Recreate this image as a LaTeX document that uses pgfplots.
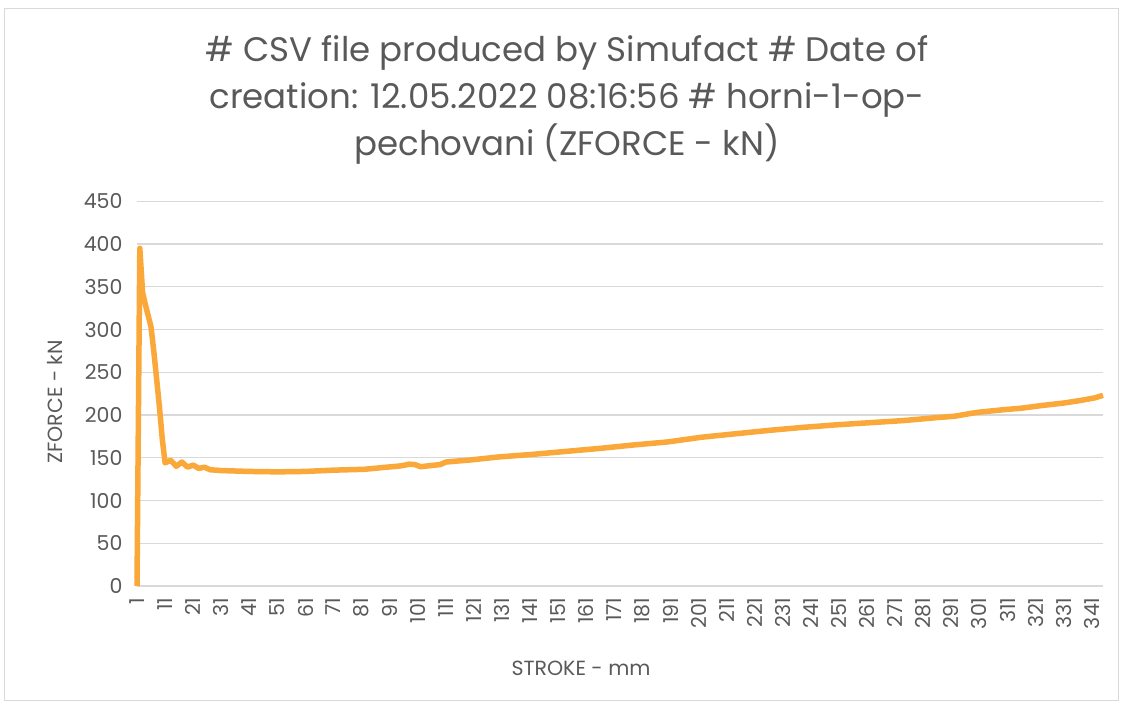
\documentclass[border=0pt]{standalone}
\usepackage{fontspec}
\setmainfont{Poppins}
\usepackage{pgfplots}
\pgfplotsset{compat=1.18}
\definecolor{lineor}{RGB}{250,168,57}
\definecolor{txtgray}{RGB}{89,89,89}
\definecolor{gridgray}{RGB}{217,217,217}

\begin{document}
\begin{tikzpicture}
\useasboundingbox (-137pt,-116pt) rectangle (986pt,586pt);
\draw[gridgray, line width=1pt] (-132pt,-114pt) rectangle (981pt,577pt);
\begin{axis}[
  scale only axis, width=966pt, height=384.75pt,
  at={(0pt,0pt)}, anchor=south west,
  xmin=1, xmax=345, ymin=0, ymax=450,
  xtick={1,11,...,341}, ytick={0,50,...,450},
  ymajorgrids, grid style={gridgray, line width=1.3pt},
  axis x line*=bottom, axis y line*=left,
  x axis line style={gridgray, line width=1.3pt, -},
  y axis line style={draw=none},
  major tick length=0pt,
  tick label style={font=\fontsize{20.5}{24}\selectfont, text=txtgray},
  xticklabel style={rotate=90, anchor=east},
  xticklabel shift=8pt, yticklabel shift=11pt,
  clip=false,
  /pgf/number format/assume math mode=true,
]
\addplot[lineor, line width=5.5pt, line join=round] coordinates {
(1,0) (2,395) (3,343) (4,329) (5,316) (6,303) (7,274) (8,242) (9,209) (10,172)
(11,144) (13,147) (15,140) (17,145) (19,139) (21,141.5) (23,137.5) (25,139) (27,136)
(31,135) (41,134) (51,133.5) (61,134) (71,135.5) (82,136.5) (90,139) (95,140.5)
(98,142.5) (100,142) (102,139.5) (106,141) (109,142) (111,145) (120,147.5)
(130,151) (142,154) (154,157.5) (166,161) (178,165) (190,168.5) (202,174) (214,178)
(226,182) (238,185.5) (250,188.5) (262,191) (274,193.5) (286,197) (292,198.5)
(300,203) (309,206) (316,208) (323,211) (331,214) (337,217) (342,220) (345,223)
};
\end{axis}
\node[align=center, font=\fontsize{34}{47}\selectfont, text=txtgray] at (430pt,486pt)
  {\# CSV file produced by Simufact \# Date of\\creation: 12.05.2022 08:16:56 \# horni-1-op-\\pechovani (ZFORCE - kN)};
\node[rotate=90, font=\fontsize{20.5}{24}\selectfont, text=txtgray] at (-82pt,184pt) {ZFORCE - kN};
\node[font=\fontsize{20.5}{24}\selectfont, text=txtgray] at (444pt,-82pt) {STROKE - mm};
\end{tikzpicture}
\end{document}
